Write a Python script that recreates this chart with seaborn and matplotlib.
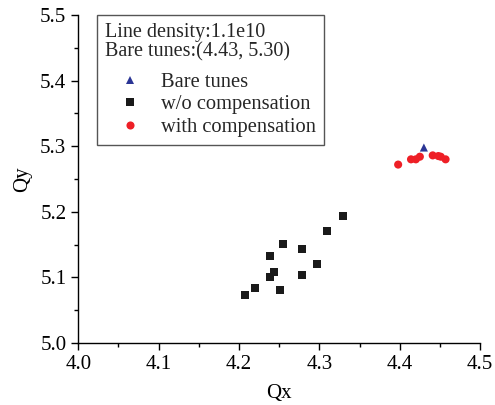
import pandas as pd
import matplotlib
matplotlib.use("Agg")
import matplotlib.pyplot as plt
import seaborn as sns
from matplotlib.ticker import MultipleLocator, FormatStrFormatter

# tune values
bare_qx = [4.430]
bare_qy = [5.298]
wo_qx = [4.329, 4.309, 4.255, 4.278, 4.239, 4.297, 4.243, 4.239, 4.278, 4.220, 4.251, 4.208]
wo_qy = [5.194, 5.171, 5.151, 5.143, 5.132, 5.120, 5.108, 5.100, 5.104, 5.084, 5.081, 5.073]
with_qx = [4.398, 4.414, 4.420, 4.425, 4.441, 4.448, 4.451, 4.457]
with_qy = [5.272, 5.280, 5.280, 5.284, 5.286, 5.285, 5.284, 5.280]

groups = ["Bare tunes", "w/o compensation", "with compensation"]
colors = {"Bare tunes": "#2b3595", "w/o compensation": "#1a1a1a", "with compensation": "#ee1f26"}
markers = {"Bare tunes": "^", "w/o compensation": "s", "with compensation": "o"}

df = pd.concat([
    pd.DataFrame({"Qx": wo_qx, "Qy": wo_qy, "group": groups[1]}),
    pd.DataFrame({"Qx": with_qx, "Qy": with_qy, "group": groups[2]}),
    pd.DataFrame({"Qx": bare_qx, "Qy": bare_qy, "group": groups[0]}),
], ignore_index=True)

sns.set_style("ticks")
plt.rcParams['font.family'] = ['Liberation Serif', 'DejaVu Serif']

fig = plt.figure(figsize=(4.95, 4.05), dpi=100)
ax = fig.add_axes([0.158, 0.153, 0.812, 0.810])

sns.scatterplot(data=df, x="Qx", y="Qy", hue="group", style="group",
                hue_order=groups, style_order=groups,
                palette=colors, markers=markers, s=34, linewidth=0, ax=ax)

ax.set_xlim(4.0, 4.5)
ax.set_ylim(5.0, 5.5)
ax.xaxis.set_major_locator(MultipleLocator(0.1))
ax.xaxis.set_minor_locator(MultipleLocator(0.05))
ax.yaxis.set_major_locator(MultipleLocator(0.1))
ax.yaxis.set_minor_locator(MultipleLocator(0.05))
ax.xaxis.set_major_formatter(FormatStrFormatter('%.1f'))
ax.yaxis.set_major_formatter(FormatStrFormatter('%.1f'))
ax.tick_params(which='major', direction='out', length=5, width=1, labelsize=15,
               color='black', labelcolor='black')
ax.tick_params(which='minor', direction='out', length=3, width=1, color='black')
sns.despine(ax=ax)
for sp in ['left', 'bottom']:
    ax.spines[sp].set_color('black')
    ax.spines[sp].set_linewidth(1)

ax.set_xlabel("Qx", fontsize=15, color='black', labelpad=7)
ax.set_ylabel("Qy", fontsize=15, color='black', labelpad=6)

sns.move_legend(ax, "upper left", bbox_to_anchor=(0.047, 1.0), borderaxespad=0,
                title="Line density:1.1e10\nBare tunes:(4.43, 5.30)",
                alignment='left', fontsize=14.8, title_fontsize=14.5,
                frameon=True, fancybox=False, framealpha=1, edgecolor='#555555',
                labelspacing=0.15, handlelength=2.4, handletextpad=0.3,
                borderpad=0.4, markerscale=1.0)
leg = ax.get_legend()
leg.get_frame().set_linewidth(1)
leg.get_title().set_linespacing(1.0)
# extra gap between the two text lines and the marker entries
leg._legend_box.sep = 8

fig.savefig("out.png", dpi=100)
